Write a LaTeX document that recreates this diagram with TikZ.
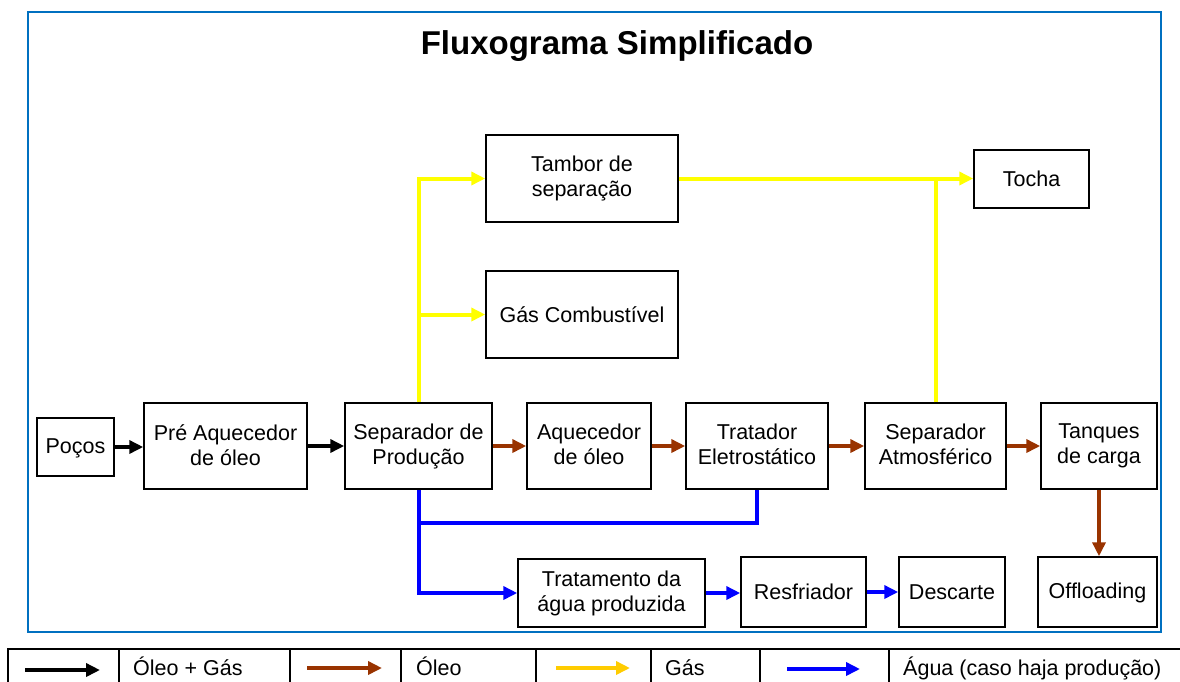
\documentclass[tikz,border=0pt]{standalone}
\usepackage{fontspec}
\setmainfont{Liberation Sans}
\usetikzlibrary{arrows.meta}
\definecolor{framecol}{HTML}{0070C0}
\definecolor{oilcol}{HTML}{993300}
\definecolor{gascol}{HTML}{FFFF00}
\definecolor{gaskey}{HTML}{FFCC00}
\definecolor{watercol}{HTML}{0000FF}
\newcommand\capstrut{\rule{0pt}{18pt}}
\newcommand\basestrut{\rule[-2.6pt]{0pt}{2.6pt}}
\begin{document}
\begin{tikzpicture}[x=1pt,y=-1pt,>={Triangle[length=14pt,width=13pt]},
    box/.style={draw,line width=1.5pt,inner sep=0pt,align=center,font=\fontsize{21.5}{25}\selectfont,
        execute at begin node=\capstrut,execute at end node=\basestrut},
    flow/.style={line width=4pt},
    oilgas/.style={flow,->,black},
    oil/.style={flow,->,oilcol},
    gas/.style={flow,->,gascol},
    gasline/.style={flow,gascol},
    water/.style={flow,->,watercol},
    waterline/.style={flow,watercol},
    keytext/.style={anchor=base west,inner sep=0pt,font=\fontsize{21.5}{25}\selectfont}]
    \path[use as bounding box,clip] (0,0) rectangle (1180,681);

    % frame and title
    \draw[framecol,line width=2.5pt] (28,12) rectangle (1161,632);
    \node[anchor=base,font=\fontsize{33}{40}\bfseries\selectfont] (title) at (617,54) {Fluxograma Simplificado};

    % process units
    \node[box,minimum width=77pt,minimum height=58pt]  (pocos)      at (75.5,447)  {Poços};
    \node[box,minimum width=163pt,minimum height=86pt] (pre)        at (225.5,446) {Pré Aquecedor\\de óleo};
    \node[box,minimum width=147pt,minimum height=86pt] (sepprod)    at (418.5,446) {Separador de\\Produção};
    \node[box,minimum width=124pt,minimum height=86pt] (aquec)      at (589,446)   {Aquecedor\\de óleo};
    \node[box,minimum width=142pt,minimum height=86pt] (tratador)   at (757,446)   {Tratador\\Eletrostático};
    \node[box,minimum width=141pt,minimum height=86pt] (sepatm)     at (935.5,446) {Separador\\Atmosférico};
    \node[box,minimum width=116pt,minimum height=86pt] (tanques)    at (1099,446)  {Tanques\\de carga};
    \node[box,minimum width=192pt,minimum height=87pt] (tambor)     at (582,178.5) {Tambor de\\separação};
    \node[box,minimum width=192pt,minimum height=87pt] (gascomb)    at (582,314.5) {Gás Combustível};
    \node[box,minimum width=115pt,minimum height=58pt] (tocha)      at (1031.5,179) {Tocha};
    \node[box,minimum width=187pt,minimum height=68pt] (tratamento) at (611.5,593) {Tratamento da\\água produzida};
    \node[box,minimum width=125pt,minimum height=70pt] (resfriador) at (803.5,592) {Resfriador};
    \node[box,minimum width=106pt,minimum height=70pt] (descarte)   at (952,592)   {Descarte};
    \node[box,minimum width=119pt,minimum height=70pt] (offloading) at (1097.5,592) {Offloading};
    \coordinate (wjoin) at (418.5,523);

    % oil + gas
    \draw[oilgas] (pocos) -- (pocos -| pre.west);
    \draw[oilgas] (pre) -- (sepprod);
    % oil
    \draw[oil] (sepprod) -- (aquec);
    \draw[oil] (aquec) -- (tratador);
    \draw[oil] (tratador) -- (sepatm);
    \draw[oil] (sepatm) -- (tanques);
    \draw[oil] (tanques.south) -- (tanques.south |- offloading.north);
    % gas
    \draw[gas] (sepprod.north) |- (tambor.west);
    \draw[gas] (sepprod.north |- gascomb.west) -- (gascomb.west);
    \draw[gas] (tambor.east) -- (tambor.east -| tocha.west);
    \draw[gasline] (sepatm.north) -- (sepatm.north |- tambor.east);
    % water
    \draw[water] (sepprod.south) |- (tratamento.west);
    \draw[waterline] (tratador.south) |- (wjoin);
    \draw[water] (tratamento.east) -- (tratamento.east -| resfriador.west);
    \draw[water] (resfriador) -- (descarte);

    % key
    \draw[line width=2pt] (8,690) |- (1190,649);
    \foreach \x in {119,290,401,536,651,760,889}
        \draw[line width=2pt] (\x,649) -- (\x,690);
    \coordinate (k1a) at (25,670);  \coordinate (k1b) at (100,670);
    \coordinate (k2a) at (307,668); \coordinate (k2b) at (382,668);
    \coordinate (k3a) at (556,668); \coordinate (k3b) at (630,668);
    \coordinate (k4a) at (787,669); \coordinate (k4b) at (860,669);
    \draw[oilgas,line width=3.5pt] (k1a) -- (k1b);
    \draw[oil,line width=3.5pt] (k2a) -- (k2b);
    \draw[gas,gaskey,line width=3.5pt] (k3a) -- (k3b);
    \draw[water,line width=3.5pt] (k4a) -- (k4b);
    \node[keytext] (key1) at (133,675) {Óleo + Gás};
    \node[keytext] (key2) at (416,675) {Óleo};
    \node[keytext] (key3) at (665,675) {Gás};
    \node[keytext] (key4) at (903,675) {Água (caso haja produção)};
\end{tikzpicture}
\end{document}
